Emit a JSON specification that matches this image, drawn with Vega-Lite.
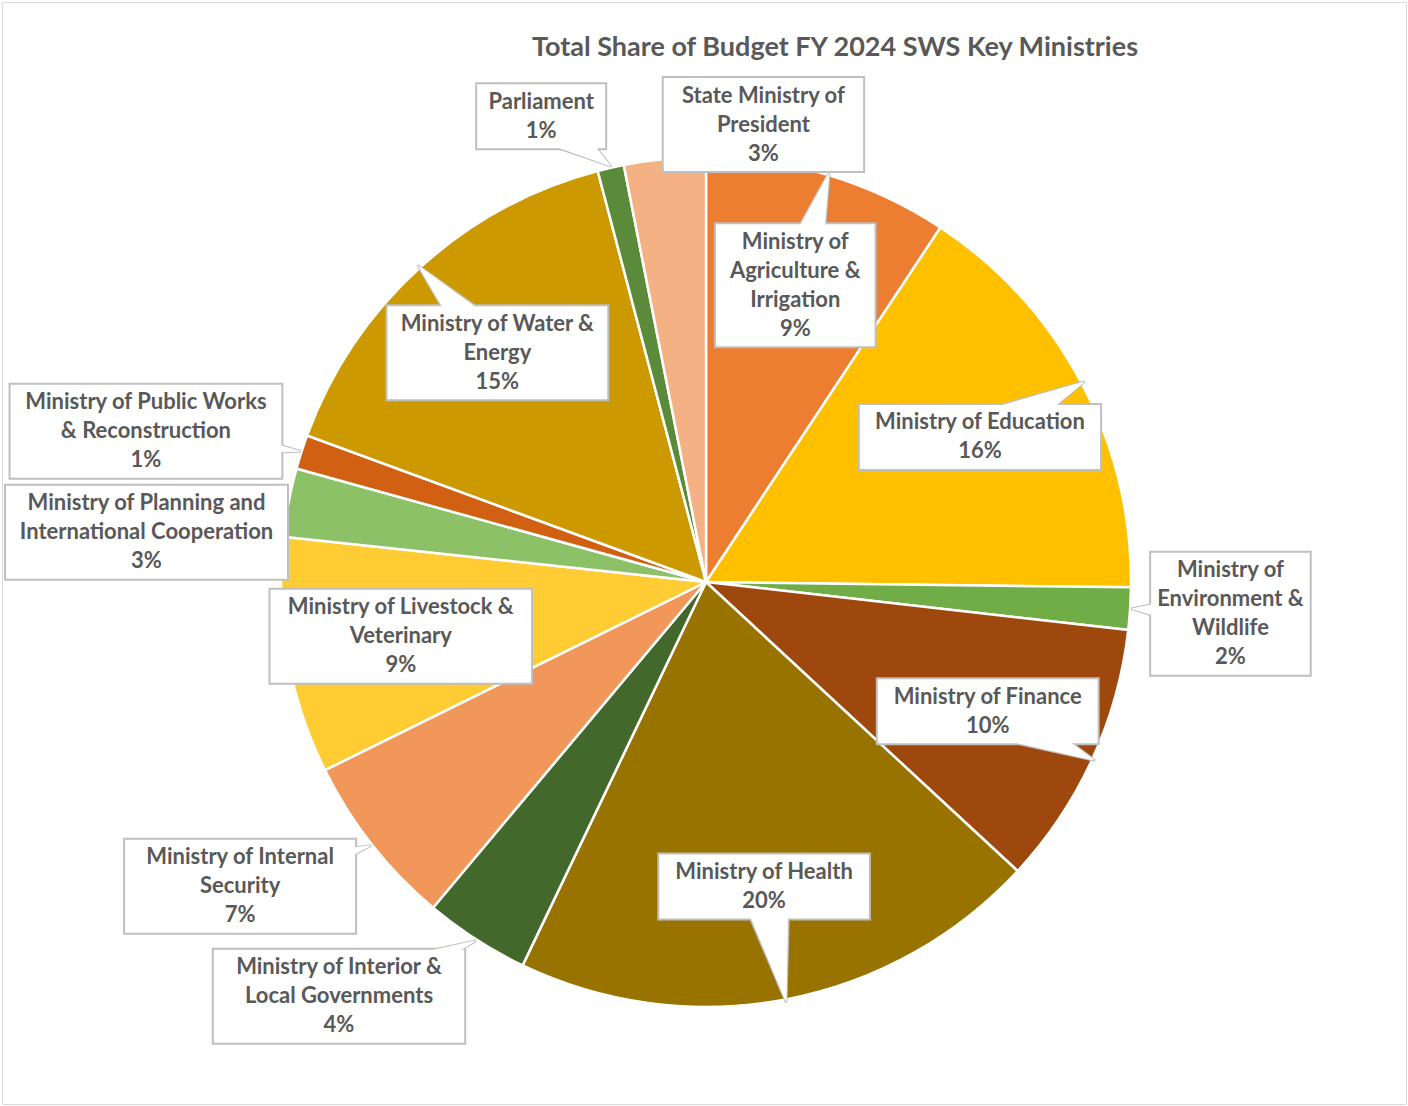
{
  "$schema": "https://vega.github.io/schema/vega-lite/v6.json",
  "width": 1404,
  "height": 1102,
  "autosize": "none",
  "padding": 2,
  "background": "white",
  "title": {
    "text": "Total Share of Budget FY 2024 SWS Key Ministries",
    "font": "Lato",
    "fontSize": 27,
    "fontWeight": "bold",
    "color": "#595959",
    "anchor": "middle",
    "frame": "group",
    "baseline": "alphabetic",
    "offset": 0,
    "dx": 131,
    "dy": 81
  },
  "config": {
    "view": {"stroke": "#D9D9D9", "strokeWidth": 1},
    "font": "Lato"
  },
  "data": {
    "values": [
      {"ministry": "Ministry of Agriculture & Irrigation", "label": "Ministry of\nAgriculture &\nIrrigation", "share": 0.093},
      {"ministry": "Ministry of Education", "label": "Ministry of Education", "share": 0.159},
      {"ministry": "Ministry of Environment & Wildlife", "label": "Ministry of\nEnvironment &\nWildlife", "share": 0.016},
      {"ministry": "Ministry of Finance", "label": "Ministry of Finance", "share": 0.101},
      {"ministry": "Ministry of Health", "label": "Ministry of Health", "share": 0.202},
      {"ministry": "Ministry of Interior & Local Governments", "label": "Ministry of Interior &\nLocal Governments", "share": 0.040},
      {"ministry": "Ministry of Internal Security", "label": "Ministry of Internal\nSecurity", "share": 0.066},
      {"ministry": "Ministry of Livestock & Veterinary", "label": "Ministry of Livestock &\nVeterinary", "share": 0.090},
      {"ministry": "Ministry of Planning and International Cooperation", "label": "Ministry of Planning and\nInternational Cooperation", "share": 0.026},
      {"ministry": "Ministry of Public Works & Reconstruction", "label": "Ministry of Public Works\n& Reconstruction", "share": 0.013},
      {"ministry": "Ministry of Water & Energy", "label": "Ministry of Water &\nEnergy", "share": 0.153},
      {"ministry": "Parliament", "label": "Parliament", "share": 0.010},
      {"ministry": "State Ministry of President", "label": "State Ministry of\nPresident", "share": 0.031}
    ]
  },
  "transform": [
    {"window": [{"op": "row_number", "as": "idx"}]},
    {"window": [{"op": "sum", "field": "share", "as": "cum"}], "sort": [{"field": "idx"}], "frame": [null, 0]},
    {"calculate": "2*PI*(datum.cum - datum.share/2)", "as": "ang"},
    {"calculate": "datum.ang*180/PI", "as": "deg"},
    {"calculate": "sin(datum.ang)", "as": "sn"},
    {"calculate": "cos(datum.ang)", "as": "cs"},
    {"calculate": "datum.label + '\\n' + format(datum.share, '.0%')", "as": "txt"},
    {"calculate": "split(datum.txt, '\\n')", "as": "lines"},
    {"calculate": "length(datum.lines)", "as": "nl"},
    {"calculate": "max(length(datum.lines[0]), length(datum.lines[1] || ''), length(datum.lines[2] || ''), length(datum.lines[3] || ''))", "as": "mc"},
    {"calculate": "datum.mc*10.2 + 28", "as": "bw"},
    {"calculate": "datum.nl*29 + 8", "as": "bh"},
    {"calculate": "datum.share < 0.08", "as": "outside"},
    {"calculate": "(datum.deg < 170 || datum.deg > 350) ? 1 : -1", "as": "side"},
    {"calculate": "(datum.outside ? 445 : 310) * datum.sn", "as": "ax"},
    {"calculate": "-(datum.outside ? 445 : 310) * datum.cs", "as": "ay"},
    {"calculate": "datum.outside ? datum.ax + datum.side*datum.bw/2 : datum.ax", "as": "cx0"},
    {"calculate": "datum.outside ? datum.ay - datum.cs*datum.bh/2 : datum.ay", "as": "cy0"},
    {"calculate": "clamp(datum.cx0, -701 + datum.bw/2, 697 - datum.bw/2)", "as": "cx"},
    {"calculate": "max(datum.cy0, -505 + datum.bh/2)", "as": "cy1"},
    {"calculate": "(datum.outside && datum.side < 0) ? 'L' : 'O'", "as": "grp"},
    {"window": [{"op": "lag", "field": "cy1", "as": "pcy"}, {"op": "lag", "field": "bh", "as": "pbh"}], "groupby": ["grp"], "sort": [{"field": "deg", "order": "descending"}]},
    {"calculate": "(datum.grp == 'L' && datum.pcy != null) ? max(datum.cy1, datum.pcy + datum.pbh/2 + datum.bh/2 + 6) : datum.cy1", "as": "cy"},
    {"calculate": "datum.cy - (datum.nl - 1)*29/2", "as": "textY"},
    {"calculate": "datum.cx - datum.bw/2", "as": "bx1"},
    {"calculate": "datum.cx + datum.bw/2", "as": "bx2"},
    {"calculate": "datum.cy - datum.bh/2", "as": "by1"},
    {"calculate": "datum.cy + datum.bh/2", "as": "by2"},
    {"calculate": "427*datum.sn", "as": "tx"},
    {"calculate": "-427*datum.cs", "as": "ty"}
  ],
  "layer": [
    {
      "mark": {"type": "arc", "outerRadius": 425, "stroke": "white", "strokeWidth": 2.5},
      "encoding": {
        "theta": {"field": "share", "type": "quantitative", "stack": true},
        "order": {"field": "idx", "type": "quantitative"},
        "color": {
          "field": "ministry",
          "type": "nominal",
          "legend": null,
          "scale": {
            "domain": [
              "Ministry of Agriculture & Irrigation",
              "Ministry of Education",
              "Ministry of Environment & Wildlife",
              "Ministry of Finance",
              "Ministry of Health",
              "Ministry of Interior & Local Governments",
              "Ministry of Internal Security",
              "Ministry of Livestock & Veterinary",
              "Ministry of Planning and International Cooperation",
              "Ministry of Public Works & Reconstruction",
              "Ministry of Water & Energy",
              "Parliament",
              "State Ministry of President"
            ],
            "range": ["#ED7D31", "#FFC000", "#70AD47", "#9E480E", "#997300", "#43682B", "#F1975A", "#FFCD33", "#8CC168", "#D26012", "#CC9A00", "#5A8A3A", "#F4B183"]
          }
        },
        "x": {"datum": 0, "type": "quantitative", "scale": {"domain": [-704, 700], "nice": false, "zero": false}, "axis": null},
        "y": {"datum": 0, "type": "quantitative", "scale": {"domain": [-580, 522], "nice": false, "zero": false, "reverse": true}, "axis": null}
      }
    },
    {
      "transform": [
        {"calculate": "0", "as": "p0"},
        {"calculate": "1", "as": "p1"},
        {"fold": ["p0", "p1"], "as": ["pk", "pv"]},
        {"calculate": "datum.pv == 0 ? datum.cx : datum.tx", "as": "px"},
        {"calculate": "datum.pv == 0 ? datum.cy : datum.ty", "as": "py"},
        {"calculate": "datum.pv == 0 ? 54 : 3", "as": "pw"}
      ],
      "mark": {"type": "trail", "color": "#BFBFBF"},
      "encoding": {
        "x": {"field": "px", "type": "quantitative", "scale": {"domain": [-704, 700], "nice": false, "zero": false}, "axis": null},
        "y": {"field": "py", "type": "quantitative", "scale": {"domain": [-580, 522], "nice": false, "zero": false, "reverse": true}, "axis": null},
        "size": {"field": "pw", "type": "quantitative", "scale": null},
        "detail": {"field": "ministry", "type": "nominal"},
        "order": {"field": "pv", "type": "quantitative"}
      }
    },
    {
      "mark": {"type": "rect", "fill": "white", "stroke": "#BFBFBF", "strokeWidth": 2},
      "encoding": {
        "x": {"field": "bx1", "type": "quantitative", "scale": {"domain": [-704, 700], "nice": false, "zero": false}, "axis": null},
        "x2": {"field": "bx2"},
        "y": {"field": "by1", "type": "quantitative", "scale": {"domain": [-580, 522], "nice": false, "zero": false, "reverse": true}, "axis": null},
        "y2": {"field": "by2"}
      }
    },
    {
      "transform": [
        {"calculate": "0", "as": "p0"},
        {"calculate": "1", "as": "p1"},
        {"fold": ["p0", "p1"], "as": ["pk", "pv"]},
        {"calculate": "datum.pv == 0 ? datum.cx : datum.tx", "as": "px"},
        {"calculate": "datum.pv == 0 ? datum.cy : datum.ty", "as": "py"},
        {"calculate": "datum.pv == 0 ? 50 : 0", "as": "pw"}
      ],
      "mark": {"type": "trail", "color": "white"},
      "encoding": {
        "x": {"field": "px", "type": "quantitative", "scale": {"domain": [-704, 700], "nice": false, "zero": false}, "axis": null},
        "y": {"field": "py", "type": "quantitative", "scale": {"domain": [-580, 522], "nice": false, "zero": false, "reverse": true}, "axis": null},
        "size": {"field": "pw", "type": "quantitative", "scale": null},
        "detail": {"field": "ministry", "type": "nominal"},
        "order": {"field": "pv", "type": "quantitative"}
      }
    },
    {
      "mark": {"type": "text", "font": "Lato", "fontSize": 22, "fontWeight": "bold", "fill": "#595959", "lineBreak": "\n", "lineHeight": 29, "align": "center", "baseline": "middle"},
      "encoding": {
        "x": {"field": "cx", "type": "quantitative", "scale": {"domain": [-704, 700], "nice": false, "zero": false}, "axis": null},
        "y": {"field": "textY", "type": "quantitative", "scale": {"domain": [-580, 522], "nice": false, "zero": false, "reverse": true}, "axis": null},
        "text": {"field": "txt", "type": "nominal"}
      }
    }
  ]
}
